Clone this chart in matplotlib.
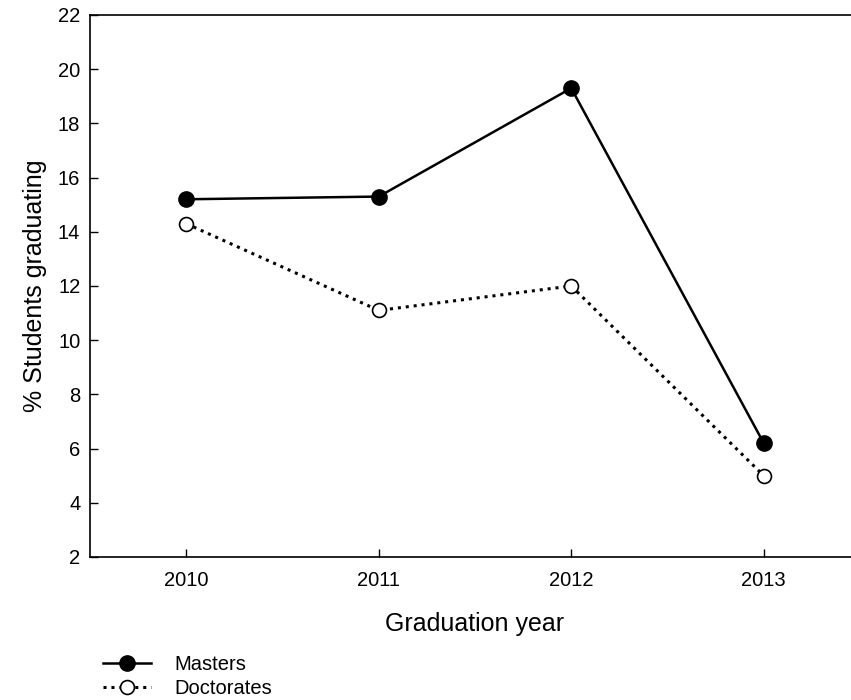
import matplotlib.pyplot as plt

years = [2010, 2011, 2012, 2013]
masters = [15.2, 15.3, 19.3, 6.2]
doctorates = [14.3, 11.1, 12.0, 5.0]

plt.rcParams['font.family'] = ['Liberation Sans', 'DejaVu Sans']

fig = plt.figure(figsize=(8.51, 7.0), dpi=100)
ax = fig.add_axes([90 / 851, 143 / 700, 770 / 851, 542 / 700])

ax.plot(years, masters, '-o', color='black', lw=1.8, ms=11,
        mfc='black', mec='black', label='Masters')
ax.plot(years, doctorates, linestyle=(0, (1, 1.6)), marker='o', color='black',
        lw=2.2, ms=10, mfc='white', mec='black', mew=1.2, label='Doctorates')

ax.set_xlim(2009.5, 2013.5)
ax.set_ylim(2, 22)
ax.set_xticks(years)
ax.set_yticks(range(2, 23, 2))
ax.tick_params(direction='in', length=6, width=1, labelsize=14.5, pad=7)
ax.tick_params(axis='x', pad=10)
for s in ax.spines.values():
    s.set_linewidth(1.2)
ax.spines['right'].set_visible(False)

ax.set_xlabel('Graduation year', fontsize=18, labelpad=16)
ax.set_ylabel('% Students graduating', fontsize=18, labelpad=8)

fig.legend(loc='upper left', bbox_to_anchor=(103 / 851, 1 - 655 / 700),
           frameon=False, fontsize=14.5, handlelength=2.4, handletextpad=1.15,
           labelspacing=0.25, borderpad=0, borderaxespad=0)

fig.savefig('out.png', dpi=100)
